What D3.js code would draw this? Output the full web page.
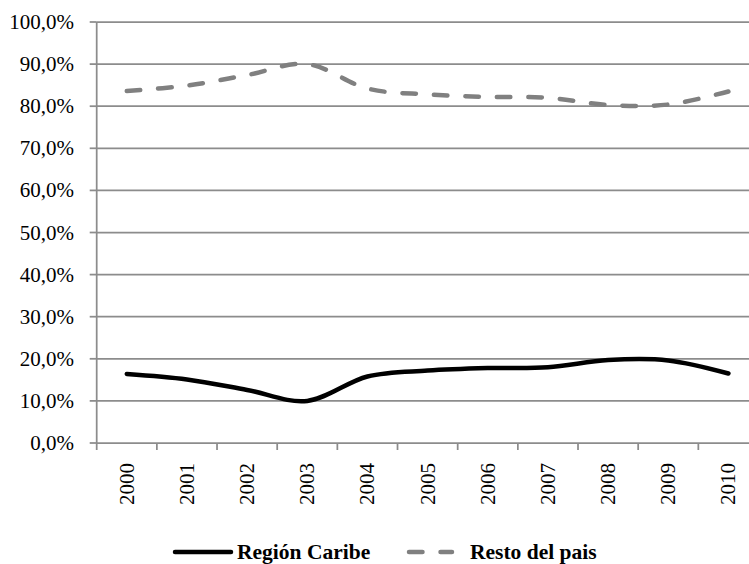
<!DOCTYPE html>
<html>
<head>
<meta charset="utf-8">
<script src="https://cdn.jsdelivr.net/npm/d3@7"></script>
</head>
<body style="margin:0">
<script>
// data (shares, in %)
const years = ["2000", "2001", "2002", "2003", "2004", "2005", "2006", "2007", "2008", "2009", "2010"];
const caribe = [16.4, 15.1, 12.6, 10.0, 15.8, 17.2, 17.8, 18.0, 19.7, 19.6, 16.5];
const resto = [83.6, 84.9, 87.4, 90.0, 84.2, 82.8, 82.2, 82.0, 80.3, 80.4, 83.5];
const yTicks = [0, 10, 20, 30, 40, 50, 60, 70, 80, 90, 100];
const seriesNames = ["Región Caribe", "Resto del pais"];

const chartW = 749;
const chartH = 564;
const plotLeft = 96.7, plotTop = 22, plotBottom = 443, plotRight = 758.5;
const gridColor = "#8c8c8c";
const fam = d => '"Tinos", "Liberation Serif", monospace';

const svg = d3.select("body").append("svg")
    .attr("width", chartW)
    .attr("height", chartH);

const x = d3.scaleBand().domain(years).range([plotLeft, plotRight]).paddingInner(0).paddingOuter(0);
const y = d3.scaleLinear().domain([0, 100]).range([plotBottom, plotTop]);

const locale = d3.formatLocale({ decimal: ",", thousands: ".", grouping: [3], currency: ["", ""] });
const fmt = locale.format(".1f");

// gridlines
svg.selectAll(".grid")
    .data(yTicks)
    .enter()
    .append("line")
    .attr("x1", plotLeft)
    .attr("x2", plotRight)
    .attr("y1", d => y(d))
    .attr("y2", d => y(d))
    .attr("stroke", gridColor)
    .attr("stroke-width", 1.75);

// y axis line + ticks
svg.append("line")
    .attr("x1", plotLeft).attr("x2", plotLeft)
    .attr("y1", y(100)).attr("y2", y(0))
    .attr("stroke", gridColor).attr("stroke-width", 1.75);

svg.selectAll(".ytick")
    .data(yTicks)
    .enter()
    .append("line")
    .attr("x1", plotLeft - 7).attr("x2", plotLeft)
    .attr("y1", d => y(d)).attr("y2", d => y(d))
    .attr("stroke", gridColor).attr("stroke-width", 1.75);

svg.selectAll(".ylabel")
    .data(yTicks)
    .enter()
    .append("text")
    .attr("x", 74)
    .attr("y", d => y(d) + 7)
    .attr("text-anchor", "end")
    .attr("font-size", 21)
    .style("font-family", fam)
    .text(d => fmt(d) + "%");

// x ticks at category edges
const edges = years.map(d => x(d)).concat([x(years[years.length - 1]) + x.bandwidth()]);
svg.selectAll(".xtick")
    .data(edges)
    .enter()
    .append("line")
    .attr("x1", d => d).attr("x2", d => d)
    .attr("y1", plotBottom).attr("y2", plotBottom + 7)
    .attr("stroke", gridColor).attr("stroke-width", 1.75);

svg.selectAll(".xlabel")
    .data(years)
    .enter()
    .append("text")
    .attr("transform", d => `translate(${x(d) + x.bandwidth() / 2 + 7},463) rotate(-90)`)
    .attr("text-anchor", "end")
    .attr("font-size", 21)
    .style("font-family", fam)
    .text(d => d);

// lines
const line = d3.line()
    .x((d, i) => x(years[i]) + x.bandwidth() / 2)
    .y(d => y(d))
    .curve(d3.curveCatmullRom.alpha(0));

svg.append("path")
    .datum(resto)
    .attr("d", line)
    .attr("fill", "none")
    .attr("stroke", "#808080")
    .attr("stroke-width", 4.5)
    .attr("stroke-linecap", "round")
    .attr("stroke-dasharray", "13.5,18");

svg.append("path")
    .datum(caribe)
    .attr("d", line)
    .attr("fill", "none")
    .attr("stroke", "#000")
    .attr("stroke-width", 4.5)
    .attr("stroke-linecap", "round");

// legend
const legY = 552;
svg.append("line")
    .attr("x1", 175).attr("x2", 231)
    .attr("y1", legY).attr("y2", legY)
    .attr("stroke", "#000").attr("stroke-width", 4.5).attr("stroke-linecap", "round");
svg.append("text")
    .attr("x", 237).attr("y", legY + 7)
    .attr("font-size", 21.5)
    .attr("font-weight", "bold")
    .style("font-family", fam)
    .text(seriesNames[0]);

svg.append("line")
    .attr("x1", 409).attr("x2", 452)
    .attr("y1", legY).attr("y2", legY)
    .attr("stroke", "#808080").attr("stroke-width", 4.5).attr("stroke-linecap", "round")
    .attr("stroke-dasharray", "13.5,18");
svg.append("text")
    .attr("x", 470).attr("y", legY + 7)
    .attr("font-size", 21.5)
    .attr("font-weight", "bold")
    .style("font-family", fam)
    .text(seriesNames[1]);
</script>
</body>
</html>
